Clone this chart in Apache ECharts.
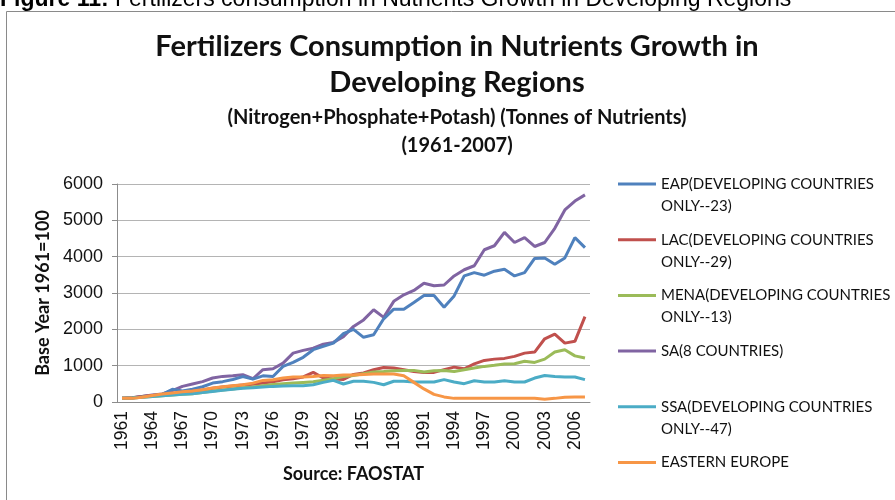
<!DOCTYPE html>
<html>
<head>
<meta charset="utf-8">
<script src="https://cdn.jsdelivr.net/npm/echarts@6/dist/echarts.min.js"></script>
<style>
  html, body { margin: 0; padding: 0; background: #fff; }
  #chart { width: 895px; height: 500px; }
</style>
</head>
<body>
<div id="chart"></div>
<script>
  // years 1961-2007
  var years = [];
  for (var y = 1961; y <= 2007; y++) years.push(String(y));

  var eap = [100, 120, 150, 180, 210, 350, 300, 350, 420, 520, 560, 620, 700, 630, 720, 700,
    980, 1090, 1230, 1440, 1530, 1620, 1880, 2000, 1780, 1850, 2290, 2555, 2555, 2740, 2930, 2930,
    2610, 2920, 3470, 3560, 3490, 3600, 3655, 3470, 3560, 3950, 3965, 3790, 3965, 4525, 4250];
  var lac = [100, 120, 150, 180, 200, 230, 260, 290, 330, 380, 410, 440, 470, 490, 520, 560,
    610, 640, 690, 815, 660, 630, 620, 760, 800, 890, 950, 935, 890, 840, 815, 815,
    890, 960, 915, 1050, 1145, 1180, 1200, 1255, 1345, 1375, 1740, 1870, 1620, 1670, 2350];
  var mena = [100, 110, 130, 150, 170, 190, 210, 230, 260, 300, 330, 360, 390, 410, 450, 480,
    500, 520, 540, 560, 600, 640, 700, 730, 780, 825, 840, 860, 870, 870, 825, 860,
    870, 840, 890, 935, 980, 1010, 1045, 1055, 1120, 1090, 1180, 1375, 1440, 1270, 1210];
  var sa = [100, 110, 150, 190, 220, 310, 430, 495, 560, 660, 705, 720, 750, 640, 890, 915,
    1070, 1345, 1420, 1480, 1590, 1640, 1800, 2080, 2260, 2540, 2330, 2770, 2950, 3070, 3270, 3200,
    3220, 3470, 3640, 3750, 4190, 4300, 4670, 4390, 4525, 4280, 4390, 4780, 5285, 5530, 5700];
  var ssa = [100, 110, 130, 150, 170, 190, 210, 230, 260, 290, 320, 350, 380, 390, 410, 430,
    440, 450, 450, 475, 540, 595, 495, 570, 570, 540, 475, 570, 570, 550, 550, 550,
    615, 550, 505, 585, 550, 550, 585, 550, 550, 660, 730, 705, 690, 690, 615];
  var eeu = [100, 100, 130, 180, 220, 250, 280, 300, 340, 385, 420, 450, 475, 520, 595, 615,
    660, 690, 690, 705, 730, 720, 740, 740, 760, 770, 770, 770, 720, 540, 360, 210,
    140, 100, 100, 100, 100, 100, 100, 100, 100, 100, 75, 100, 130, 140, 140];

  var names = [
    'EAP(DEVELOPING COUNTRIES\nONLY--23)',
    'LAC(DEVELOPING COUNTRIES\nONLY--29)',
    'MENA(DEVELOPING COUNTRIES\nONLY--13)',
    'SA(8 COUNTRIES)',
    'SSA(DEVELOPING COUNTRIES\nONLY--47)',
    'EASTERN EUROPE'
  ];
  var colors = ['#4F81BD', '#C0504D', '#9BBB59', '#8064A2', '#4BACC6', '#F79646'];
  var values = [eap, lac, mena, sa, ssa, eeu];

  var font = 'Lato, "Open Sans", sans-serif';
  var numFont = '"Liberation Sans", Arial, sans-serif';

  // one legend per entry so the gaps match the picture
  var legends = names.map(function (n, i) {
    var twoLine = n.indexOf('\n') >= 0;
    var yc = 184 + i * 55.7;
    return {
      data: [n],
      left: 618,
      top: twoLine ? yc - 33 : yc - 11,
      padding: 0,
      icon: 'rect',
      itemWidth: 38,
      itemHeight: 3,
      itemGap: 0,
      // empty first line puts the first text line level with the icon
      formatter: function (name) { return twoLine ? ' \n' + name : name; },
      textStyle: { fontFamily: font, fontSize: 15, color: '#111', lineHeight: 22 }
    };
  });

  var series = names.map(function (n, i) {
    return {
      name: n,
      type: 'line',
      data: values[i],
      symbol: 'none',
      color: colors[i],
      lineStyle: { width: 3 }
    };
  });
  // draw order as in the picture
  series = [series[3], series[0], series[1], series[2], series[4], series[5]];

  var chart = echarts.init(document.getElementById('chart'));
  chart.setOption({
    animation: false,
    title: [{
      text: 'Fertilizers Consumption in Nutrients Growth in\nDeveloping Regions',
      left: 452,
      top: 24,
      textAlign: 'center',
      textStyle: { fontFamily: font, fontSize: 29, fontWeight: 'bold', color: '#111', lineHeight: 36 }
    }, {
      text: '(Nitrogen+Phosphate+Potash) (Tonnes of Nutrients)\n(1961-2007)',
      left: 452,
      top: 99,
      textAlign: 'center',
      textStyle: { fontFamily: font, fontSize: 20, fontWeight: 'bold', color: '#111', lineHeight: 28 }
    }],
    graphic: [{
      type: 'rect',
      shape: { x: 6.5, y: 11.5, width: 1000, height: 600 },
      style: { fill: 'none', stroke: '#8a8a8a', lineWidth: 1 }
    }, {
      type: 'text',
      x: 0,
      y: 11,
      style: {
        text: '{b|Figure 11:} Fertilizers consumption in Nutrients Growth in Developing Regions',
        fontFamily: numFont,
        fontSize: 23,
        verticalAlign: 'bottom',
        fill: '#000',
        rich: { b: { fontWeight: 'bold', fontSize: 23, fontFamily: numFont } }
      }
    }],
    legend: legends,
    grid: { left: 117, right: 305, top: 184, bottom: 98 },
    xAxis: {
      type: 'category',
      data: years,
      boundaryGap: true,
      name: 'Source: FAOSTAT',
      nameLocation: 'middle',
      nameGap: 63,
      nameTextStyle: { fontFamily: font, fontSize: 18, fontWeight: 'bold', color: '#111' },
      axisLine: { lineStyle: { color: '#8c8c8c' } },
      axisTick: { interval: 0, length: 6, lineStyle: { color: '#8c8c8c' } },
      axisLabel: {
        interval: 2,
        rotate: 90,
        fontFamily: numFont,
        fontSize: 17.5,
        color: '#111',
        margin: 9
      }
    },
    yAxis: {
      type: 'value',
      min: 0,
      max: 6000,
      interval: 1000,
      name: 'Base Year 1961=100',
      nameLocation: 'middle',
      nameGap: 60,
      nameTextStyle: { fontFamily: font, fontSize: 18, fontWeight: 'bold', color: '#111' },
      axisLine: { show: true, lineStyle: { color: '#8c8c8c' } },
      axisTick: { show: true, length: 5, lineStyle: { color: '#8c8c8c' } },
      axisLabel: {
        fontFamily: numFont,
        fontSize: 18,
        color: '#111',
        margin: 14,
        formatter: function (v) { return String(v); }
      },
      splitLine: { lineStyle: { color: '#b4b4b4' } }
    },
    series: series
  });
</script>
</body>
</html>
